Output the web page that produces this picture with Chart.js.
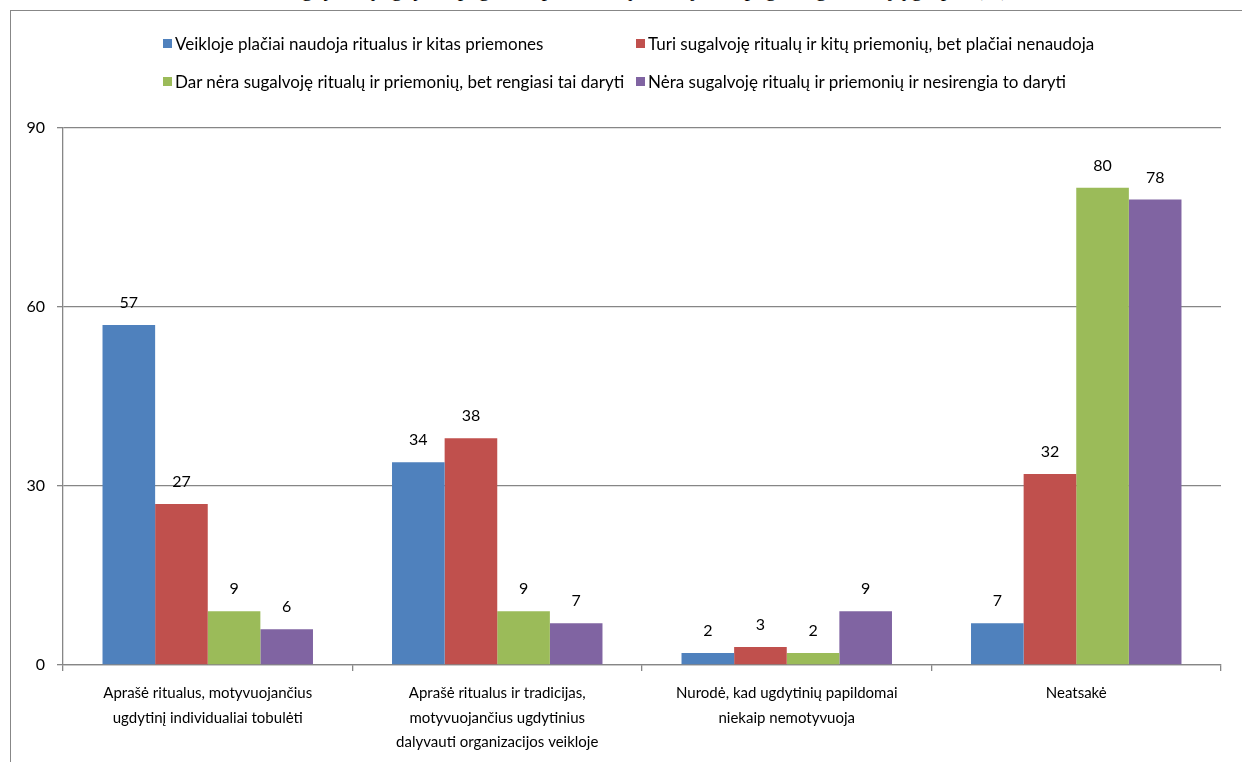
<!DOCTYPE html>
<html lang="lt">
<head>
<meta charset="utf-8">
<script src="https://cdn.jsdelivr.net/npm/chart.js@4/dist/chart.umd.min.js"></script>
<style>
  html, body { margin: 0; padding: 0; background: #fff; overflow: hidden; }
  body { width: 1242px; height: 762px; position: relative; }
  #title {
    position: absolute; left: 0; width: 1294px; top: -23px;
    text-align: center; font-family: "Liberation Serif", serif; font-size: 22px;
    line-height: 24px; color: #000; white-space: nowrap;
  }
  #frame {
    position: absolute; left: 10px; top: 10px; width: 1300px; height: 800px;
    border-left: 1.5px solid #878787; border-top: 1.5px solid #878787;
  }
  #chart { position: absolute; left: 0; top: 0; }
  #legend {
    position: absolute; left: 163px; top: 34px;
    display: grid; grid-template-columns: 473px auto; row-gap: 20px;
    font-family: Lato, sans-serif; font-size: 17px; color: #000;
  }
  .item { display: flex; align-items: center; height: 18px; white-space: nowrap; }
  .box { width: 9px; height: 9px; margin-right: 3px; }
</style>
</head>
<body>
<div id="title">Ugdytinių ugdymo pagalbos priemonių naudojimas pagal organizacijų grupes (%)</div>
<div id="frame"></div>
<canvas id="chart" width="1242" height="762"></canvas>
<div id="legend"></div>
<script>
const categories = [
    ['Aprašė ritualus, motyvuojančius', 'ugdytinį individualiai tobulėti'],
    ['Aprašė ritualus ir tradicijas,', 'motyvuojančius ugdytinius', 'dalyvauti organizacijos veikloje'],
    ['Nurodė, kad ugdytinių papildomai', 'niekaip nemotyvuoja'],
    ['Neatsakė']
];
const seriesNames = [
    'Veikloje plačiai naudoja ritualus ir kitas priemones',
    'Turi sugalvoję ritualų ir kitų priemonių, bet plačiai nenaudoja',
    'Dar nėra sugalvoję ritualų ir priemonių, bet rengiasi tai daryti',
    'Nėra sugalvoję ritualų ir priemonių ir nesirengia to daryti'
];
const widelyUse = [57, 34, 2, 7];
const haveNotUse = [27, 38, 3, 32];
const planning = [9, 9, 2, 80];
const notPlanning = [6, 7, 9, 78];
const yTicks = [0, 30, 60, 90];

const colors = ['#4F81BD', '#C0504D', '#9BBB59', '#8064A2'];
const gridColor = '#868686';

const valueLabels = {
    id: 'valueLabels',
    afterDatasetsDraw(chart) {
        const ctx = chart.ctx;
        ctx.save();
        ctx.font = '16px Lato, sans-serif';
        ctx.fillStyle = '#000';
        ctx.textAlign = 'center';
        ctx.textBaseline = 'alphabetic';
        chart.data.datasets.forEach((ds, i) => {
            chart.getDatasetMeta(i).data.forEach((bar, j) => {
                ctx.fillText(ds.data[j], bar.x, bar.y - 17);
            });
        });
        ctx.restore();
    }
};

const allSeries = [widelyUse, haveNotUse, planning, notPlanning];

const chart = new Chart(document.getElementById('chart').getContext('2d'), {
    type: 'bar',
    data: {
        labels: categories,
        datasets: allSeries.map((values, i) => ({
            label: seriesNames[i],
            data: values,
            backgroundColor: colors[i],
            borderWidth: 0,
            categoryPercentage: 0.727,
            barPercentage: 1
        }))
    },
    options: {
        responsive: false,
        animation: false,
        layout: { padding: { left: 10, right: 21, top: 128, bottom: 0 } },
        plugins: {
            legend: { display: false },
            tooltip: { enabled: false }
        },
        scales: {
            x: {
                offset: true,
                grid: {
                    offset: true,
                    drawOnChartArea: false,
                    drawTicks: true,
                    tickLength: 6,
                    color: gridColor,
                    lineWidth: 1.3
                },
                border: { color: gridColor, width: 1.3 },
                ticks: {
                    color: '#000',
                    font: { family: 'Lato, sans-serif', size: 15, lineHeight: 1.63 },
                    padding: 10,
                    autoSkip: false,
                    maxRotation: 0
                },
                afterFit: scale => { scale.height = 97; }
            },
            y: {
                min: 0,
                max: 90,
                afterBuildTicks: scale => { scale.ticks = yTicks.map(v => ({ value: v })); },
                grid: {
                    color: gridColor,
                    lineWidth: 1.3,
                    drawTicks: true,
                    tickLength: 6
                },
                border: { color: gridColor, width: 1.3 },
                ticks: {
                    color: '#000',
                    font: { family: 'Lato, sans-serif', size: 16 },
                    padding: 12
                },
                afterFit: scale => { scale.width = 53; }
            }
        }
    },
    plugins: [valueLabels]
});

// legend built from the chart's datasets, laid out in two aligned columns
const legendEl = document.getElementById('legend');
chart.data.datasets.forEach(ds => {
    const item = document.createElement('div');
    item.className = 'item';
    const box = document.createElement('span');
    box.className = 'box';
    box.style.background = ds.backgroundColor;
    const text = document.createElement('span');
    text.textContent = ds.label;
    item.appendChild(box);
    item.appendChild(text);
    legendEl.appendChild(item);
});
</script>
</body>
</html>
